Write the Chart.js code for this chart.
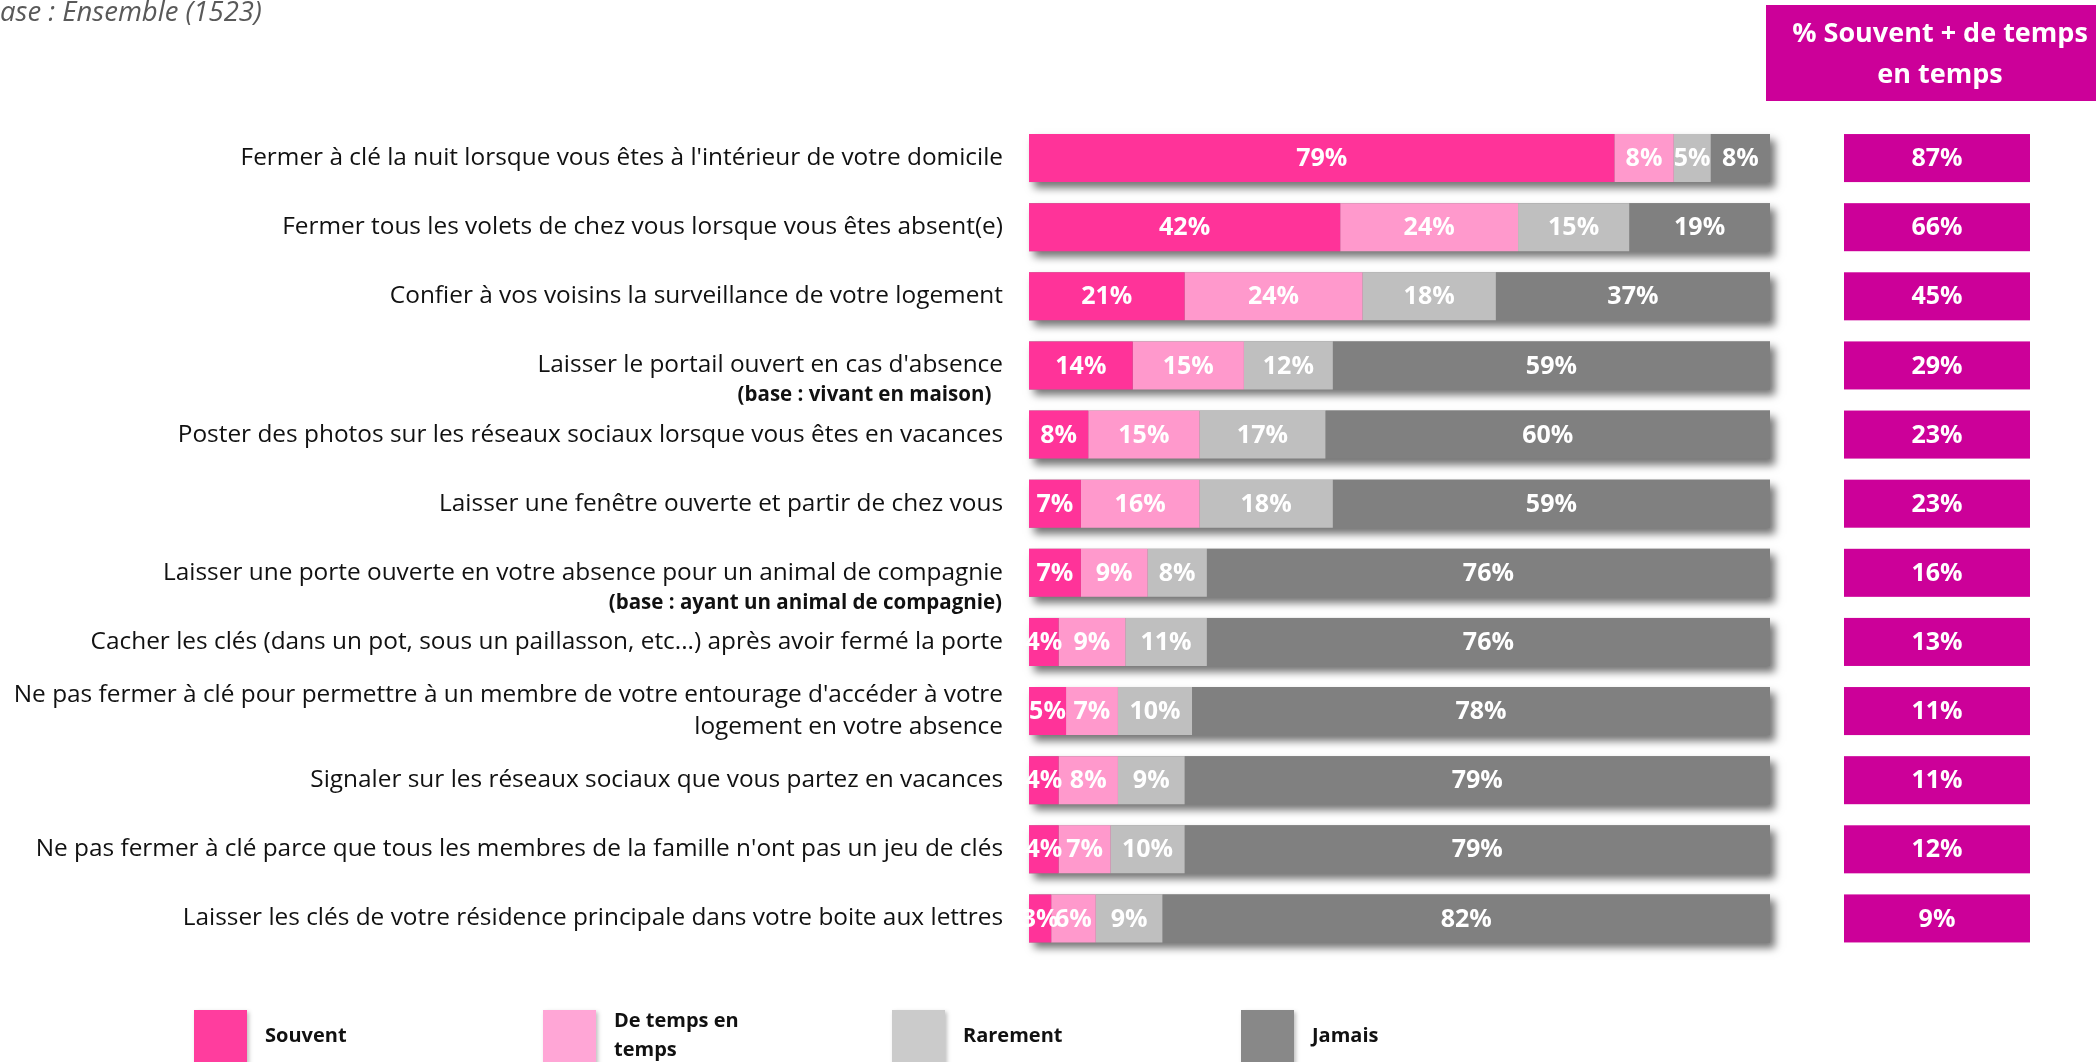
<!DOCTYPE html>
<html><head><meta charset="utf-8">
<script src="https://cdn.jsdelivr.net/npm/chart.js@4.4.1/dist/chart.umd.min.js"></script>
<style>html,body{margin:0;padding:0;background:#fff;overflow:hidden}canvas{display:block}</style>
</head><body>
<canvas id="c" width="2096" height="1062"></canvas>
<script>
const categories = [
  "Fermer à clé la nuit lorsque vous êtes à l'intérieur de votre domicile",
  "Fermer tous les volets de chez vous lorsque vous êtes absent(e)",
  "Confier à vos voisins la surveillance de votre logement",
  "Laisser le portail ouvert en cas d'absence",
  "Poster des photos sur les réseaux sociaux lorsque vous êtes en vacances",
  "Laisser une fenêtre ouverte et partir de chez vous",
  "Laisser une porte ouverte en votre absence pour un animal de compagnie",
  "Cacher les clés (dans un pot, sous un paillasson, etc...) après avoir fermé la porte",
  ["Ne pas fermer à clé pour permettre à un membre de votre entourage d'accéder à votre", "logement en votre absence"],
  "Signaler sur les réseaux sociaux que vous partez en vacances",
  "Ne pas fermer à clé parce que tous les membres de la famille n'ont pas un jeu de clés",
  "Laisser les clés de votre résidence principale dans votre boite aux lettres"
];
const baseNotes = ["", "", "", "(base : vivant en maison)  ", "", "", "(base : ayant un animal de compagnie)", "", "", "", "", ""];
const seriesNames = ["Souvent", "De temps en temps", "Rarement", "Jamais"];
const legendLabels = [["Souvent"], ["De temps en", "temps"], ["Rarement"], ["Jamais"]];
const souvent        = [79, 42, 21, 14, 8, 7, 7, 4, 5, 4, 4, 3];
const deTempsEnTemps = [8, 24, 24, 15, 15, 16, 9, 9, 7, 8, 7, 6];
const rarement       = [5, 15, 18, 12, 17, 18, 8, 11, 10, 9, 10, 9];
const jamais         = [8, 19, 37, 59, 60, 59, 76, 76, 78, 79, 79, 82];
const totalSouventDeTemps = [87, 66, 45, 29, 23, 23, 16, 13, 11, 11, 12, 9];
const totalHeader = ["% Souvent + de temps", "en temps"];
const baseText = "Base : Ensemble (1523)";

const series = [souvent, deTempsEnTemps, rarement, jamais];
const colors = ['#FF3399', '#FF99CC', '#BFBFBF', '#808080'];
const legendColors = ['#FF3D9E', '#FFA6D6', '#CBCBCB', '#888888'];
const MAGENTA = '#CC0099';
const FONT = "'Open Sans', 'Noto Sans', sans-serif";

const barShadow = {
  id: 'barShadow',
  beforeDatasetsDraw(chart) {
    const { ctx } = chart;
    const xs = chart.scales.x;
    const first = chart.getDatasetMeta(0), last = chart.getDatasetMeta(series.length - 1);
    ctx.save();
    ctx.shadowColor = 'rgba(0,0,0,0.55)';
    ctx.shadowBlur = 8;
    ctx.shadowOffsetX = 5;
    ctx.shadowOffsetY = 6;
    ctx.fillStyle = '#808080';
    first.data.forEach((el, i) => {
      const l = xs.getPixelForValue(0);
      const r = last.data[i].x;
      ctx.fillRect(l, el.y - el.height / 2, r - l, el.height);
    });
    ctx.restore();
  }
};

const segLabels = {
  id: 'segLabels',
  afterDatasetsDraw(chart) {
    const { ctx } = chart;
    ctx.save();
    ctx.font = "bold 25px " + FONT;
    ctx.fillStyle = '#FFFFFF';
    ctx.textAlign = 'center';
    ctx.textBaseline = 'middle';
    series.forEach((d, di) => {
      const meta = chart.getDatasetMeta(di);
      meta.data.forEach((el, i) => {
        const cx = (el.x + el.base) / 2;
        ctx.fillText(d[i] + '%', cx, el.y + 1);
      });
    });
    ctx.restore();
  }
};

const extras = {
  id: 'extras',
  afterDraw(chart) {
    const { ctx, chartArea } = chart;
    const meta = chart.getDatasetMeta(0);
    ctx.save();
    // total boxes
    meta.data.forEach((el, i) => {
      const x0 = chartArea.right + 74, w = 186;
      ctx.fillStyle = MAGENTA;
      ctx.fillRect(x0, el.y - el.height / 2, w, el.height);
      ctx.fillStyle = '#FFFFFF';
      ctx.font = "bold 25px " + FONT;
      ctx.textAlign = 'center';
      ctx.textBaseline = 'middle';
      ctx.fillText(totalSouventDeTemps[i] + '%', x0 + w / 2, el.y + 1);
    });
    // header box
    ctx.fillStyle = MAGENTA;
    ctx.fillRect(1766, 5, 330, 96);
    ctx.fillStyle = '#FFFFFF';
    ctx.font = "bold 27px " + FONT;
    ctx.textAlign = 'center';
    ctx.textBaseline = 'middle';
    totalHeader.forEach((t, k) => ctx.fillText(t, 1940, 34 + k * 41));
    // base notes
    ctx.fillStyle = '#111111';
    ctx.font = "bold 20.5px " + FONT;
    ctx.textAlign = 'right';
    meta.data.forEach((el, i) => {
      if (baseNotes[i]) ctx.fillText(baseNotes[i], chartArea.left - 27, el.y + 30);
    });
    // base text top-left
    ctx.fillStyle = '#595959';
    ctx.font = "italic 27.5px " + FONT;
    ctx.textAlign = 'left';
    ctx.textBaseline = 'alphabetic';
    const wB = ctx.measureText('B').width;
    ctx.fillText(baseText, -wB, 21);
    // legend
    legendLabels.forEach((lines, i) => {
      const x = 194 + i * 349;
      ctx.save();
      ctx.shadowColor = 'rgba(0,0,0,0.25)';
      ctx.shadowBlur = 4;
      ctx.shadowOffsetX = 2;
      ctx.shadowOffsetY = 2;
      ctx.fillStyle = legendColors[i];
      ctx.fillRect(x, 1010, 53, 60);
      ctx.restore();
      ctx.fillStyle = '#111111';
      ctx.font = "bold 20px " + FONT;
      ctx.textAlign = 'left';
      ctx.textBaseline = 'middle';
      if (lines.length === 1) ctx.fillText(lines[0], x + 71, 1036);
      else lines.forEach((t, k) => ctx.fillText(t, x + 71, 1021 + k * 29));
    });
    ctx.restore();
  }
};

function build() {
  new Chart(document.getElementById('c'), {
    type: 'bar',
    data: {
      labels: categories,
      datasets: series.map((d, i) => ({
        label: seriesNames[i],
        data: d,
        backgroundColor: colors[i],
        borderWidth: 0,
        categoryPercentage: 1,
        barPercentage: 0.695
      }))
    },
    options: {
      indexAxis: 'y',
      responsive: false,
      animation: false,
      layout: { padding: { left: 0, right: 326, top: 123.5, bottom: 109 } },
      scales: {
        x: { stacked: true, min: 0, max: 100, display: false },
        y: {
          stacked: true,
          grid: { display: false, drawTicks: false },
          border: { display: false },
          ticks: { padding: 26, color: '#111111', font: { family: FONT, size: 24.4, lineHeight: 1.31 } },
          afterFit(s) { s.width = 1029; }
        }
      },
      plugins: { legend: { display: false }, tooltip: { enabled: false } }
    },
    plugins: [barShadow, segLabels, extras]
  });
}
Promise.all([
  document.fonts.load("20px 'Open Sans'"),
  document.fonts.load("bold 20px 'Open Sans'"),
  document.fonts.load("italic 20px 'Open Sans'")
]).then(build, build);
</script>
</body></html>
